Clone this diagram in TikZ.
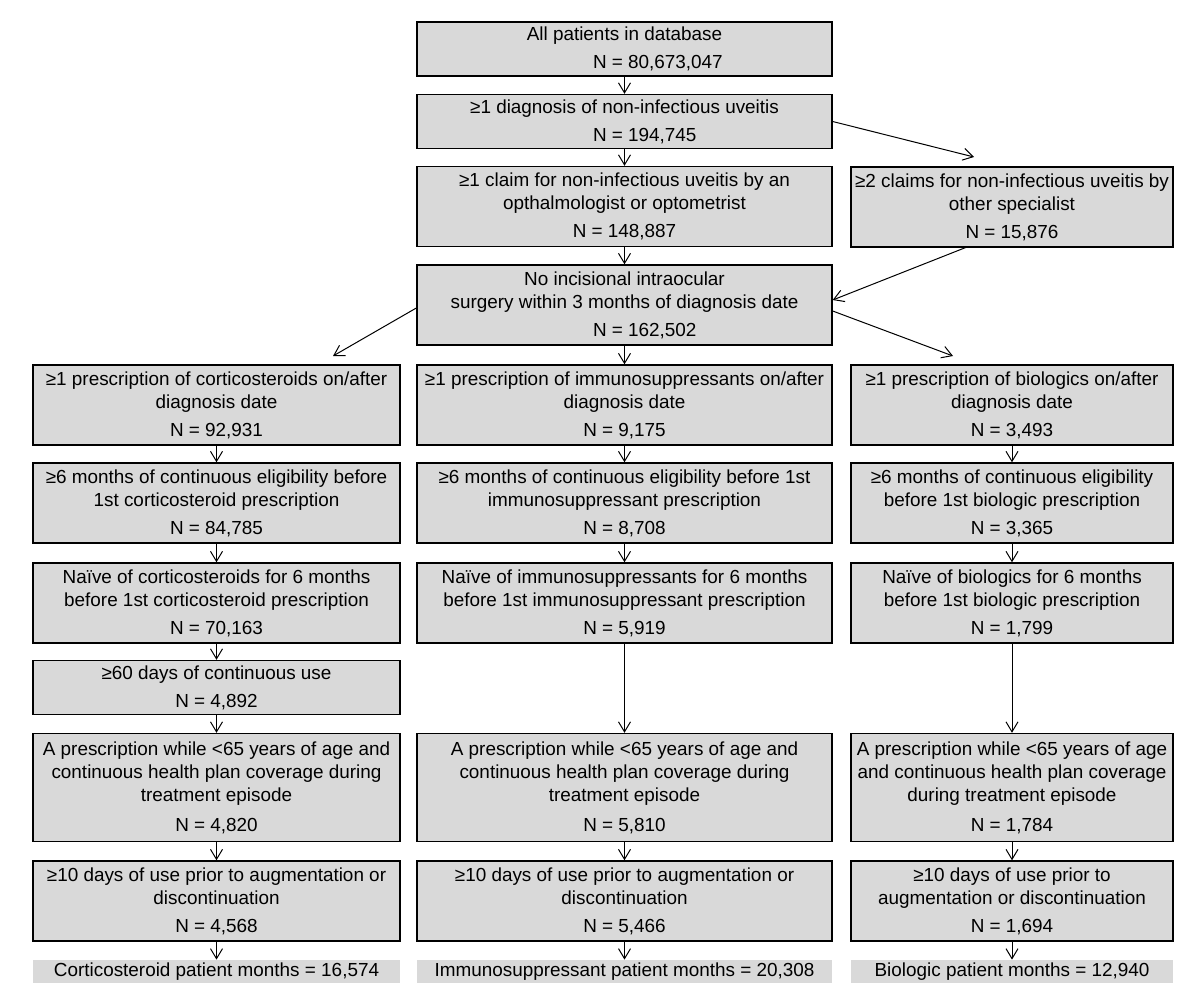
\documentclass[tikz,border=0pt]{standalone}
\usepackage{fontspec}
\setmainfont{Liberation Sans}
\usetikzlibrary{arrows.meta}

\tikzset{
  box/.style={draw, line width=0.7pt, fill=black!15, align=center, inner sep=0pt,
    font=\fontsize{9.45}{11.5}\selectfont},
  bar/.style={fill=black!15, align=center, inner sep=0pt, minimum height=11.5pt,
    font=\fontsize{9.45}{11.5}\selectfont},
  colL/.style={minimum width=183.5pt},
  colM/.style={minimum width=207.5pt},
  colR/.style={minimum width=161pt},
  hA/.style={minimum height=27pt},
  hB/.style={minimum height=40pt},
  hC/.style={minimum height=54pt},
  arr/.style={-{Straight Barb[length=5pt,width=6pt]}, line width=0.5pt}
}

\begin{document}
\begin{tikzpicture}[x=0.5pt,y=-0.5pt]
      \useasboundingbox (0,0) rectangle (1200,998);
      % selection steps before the split
      \node[box,colM,hA] (all) at (624.5,49) {All patients in database\\[2.5pt]\makebox[31.5pt][l]{N = 80,673,047}};
      \node[box,colM,hA] (diag) at (624.5,121.5) {≥1 diagnosis of non-infectious uveitis\\[2.5pt]\makebox[31.5pt][l]{N = 194,745}};
      \node[box,colM,hB] (ophth) at (624.5,206.5) {≥1 claim for non-infectious uveitis by an\\opthalmologist or optometrist\\[2.5pt]N = 148,887};
      \node[box,colR,hB] (spec) at (1012,207) {≥2 claims for non-infectious uveitis by\\other specialist\\[2.5pt]N = 15,876};
      \node[box,colM,hB] (nosurg) at (624.5,305) {No incisional intraocular\\surgery within 3 months of diagnosis date\\[2.5pt]\makebox[31.5pt][l]{N = 162,502}};
      % corticosteroids
      \node[box,colL,hB] (corA) at (216.5,405) {≥1 prescription of corticosteroids on/after\\diagnosis date\\[2.5pt]N = 92,931};
      \node[box,colL,hB] (corB) at (216.5,503) {≥6 months of continuous eligibility before\\1st corticosteroid prescription\\[2.5pt]N = 84,785};
      \node[box,colL,hB] (corC) at (216.5,603) {Naïve of corticosteroids for 6 months\\before 1st corticosteroid prescription\\[2.5pt]N = 70,163};
      \node[box,colL,hA] (corD) at (216.5,687.5) {≥60 days of continuous use\\[2.5pt]N = 4,892};
      \node[box,colL,hC] (corE) at (216.5,787.5) {A prescription while <65 years of age and\\continuous health plan coverage during\\treatment episode\\[3.5pt]N = 4,820};
      \node[box,colL,hB] (corF) at (216.5,901) {≥10 days of use prior to augmentation or\\discontinuation\\[2.5pt]N = 4,568};
      \node[bar,colL] (corPM) at (216.5,971.5) {Corticosteroid patient months = 16,574};
      % immunosuppressants
      \node[box,colM,hB] (immA) at (624.5,405) {≥1 prescription of immunosuppressants on/after\\diagnosis date\\[2.5pt]N = 9,175};
      \node[box,colM,hB] (immB) at (624.5,503) {≥6 months of continuous eligibility before 1st\\immunosuppressant prescription\\[2.5pt]N = 8,708};
      \node[box,colM,hB] (immC) at (624.5,603) {Naïve of immunosuppressants for 6 months\\before 1st immunosuppressant prescription\\[2.5pt]N = 5,919};
      \node[box,colM,hC] (immE) at (624.5,787.5) {A prescription while <65 years of age and\\continuous health plan coverage during\\treatment episode\\[3.5pt]N = 5,810};
      \node[box,colM,hB] (immF) at (624.5,901) {≥10 days of use prior to augmentation or\\discontinuation\\[2.5pt]N = 5,466};
      \node[bar,colM] (immPM) at (624.5,971.5) {Immunosuppressant patient months = 20,308};
      % biologics
      \node[box,colR,hB] (bioA) at (1012,405) {≥1 prescription of biologics on/after\\diagnosis date\\[2.5pt]N = 3,493};
      \node[box,colR,hB] (bioB) at (1012,503) {≥6 months of continuous eligibility\\before 1st biologic prescription\\[2.5pt]N = 3,365};
      \node[box,colR,hB] (bioC) at (1012,603) {Naïve of biologics for 6 months\\before 1st biologic prescription\\[2.5pt]N = 1,799};
      \node[box,colR,hC] (bioE) at (1012,787.5) {A prescription while <65 years of age\\and continuous health plan coverage\\during treatment episode\\[3.5pt]N = 1,784};
      \node[box,colR,hB] (bioF) at (1012,901) {≥10 days of use prior to\\augmentation or discontinuation\\[2.5pt]N = 1,694};
      \node[bar,colR] (bioPM) at (1012,971.5) {Biologic patient months = 12,940};
      % free ends of the slanted arrows
      \coordinate (specin) at (974,157);
      \coordinate (specout) at (967,247);
      \coordinate (corin) at (333,356);
      \coordinate (bioin) at (953,356);
      \draw[arr] (all) -- (diag);
      \draw[arr] (diag) -- (ophth);
      \draw[arr] (ophth) -- (nosurg);
      \draw[arr] (diag.east) -- (specin);
      \draw[arr] (specout) -- ([yshift=2.5pt]nosurg.east);
      \draw[arr] ([yshift=-1.5pt]nosurg.west) -- (corin);
      \draw[arr] ([yshift=-3pt]nosurg.east) -- (bioin);
      \draw[arr] (nosurg) -- (immA);
      \foreach \c in {cor,imm,bio} {
        \draw[arr] (\c A) -- (\c B);
        \draw[arr] (\c B) -- (\c C);
        \draw[arr] (\c E) -- (\c F);
        \draw[arr] (\c F) -- (\c PM);
      }
      \draw[arr] (corC) -- (corD);
      \draw[arr] (corD) -- (corE);
      \draw[arr] (immC) -- (immE);
      \draw[arr] (bioC) -- (bioE);
\end{tikzpicture}
\end{document}
